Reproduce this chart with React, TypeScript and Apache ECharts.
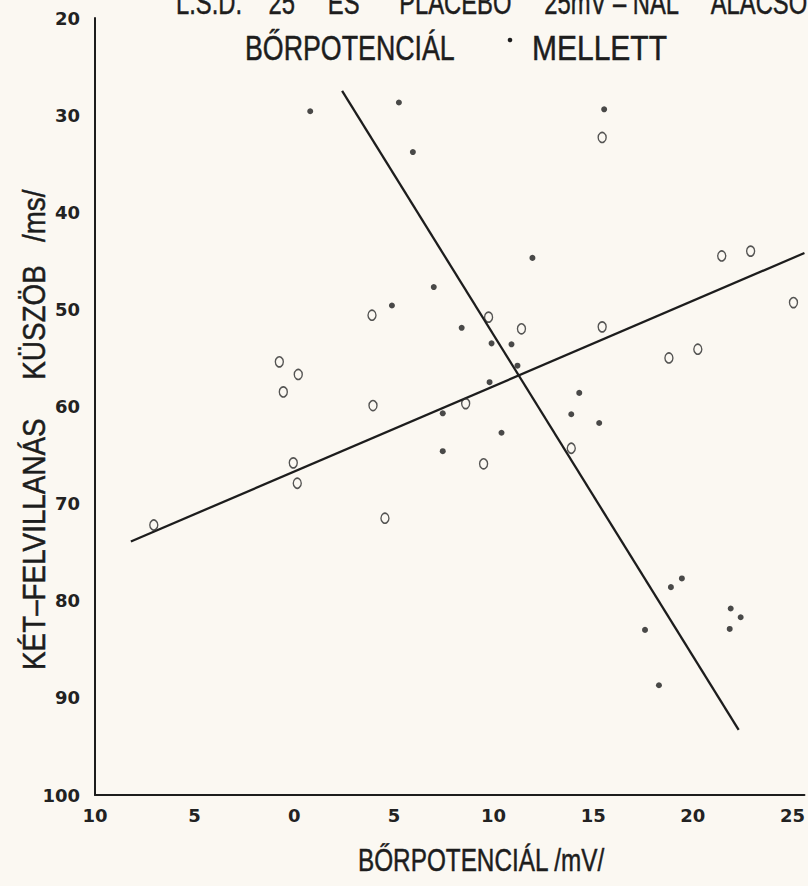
import React, { useEffect, useRef } from 'react';
import * as echarts from 'echarts';

// Axis ticks (skin potential, mV; the left side is negative)
const xTickValues = [-10, -5, 0, 5, 10, 15, 20, 25];
const yTickValues = [20, 30, 40, 50, 60, 70, 80, 90, 100];

// L.S.D. 25 (filled dots)
const lsdX = [0.8, 5.25, 5.95, 7.0, 4.9, 15.55, 11.95, 8.4, 9.9, 10.9, 11.2, 9.8, 7.45, 10.4, 7.45, 14.3, 13.9, 15.3, 19.45, 18.9, 21.9, 22.4, 21.85, 17.6, 18.3];
const lsdY = [29.6, 28.7, 33.8, 47.7, 49.6, 29.4, 44.7, 51.9, 53.5, 53.6, 55.8, 57.5, 60.7, 62.7, 64.6, 58.6, 60.8, 61.7, 77.7, 78.6, 80.8, 81.7, 82.9, 83.0, 88.7];

// Placebo (open circles)
const placeboX = [-0.75, 0.2, -0.55, -0.05, 0.15, -7.05, 3.9, 3.95, 4.55, 9.75, 11.4, 8.6, 9.5, 13.9, 15.45, 15.45, 18.8, 20.25, 21.45, 22.9, 25.05];
const placeboY = [55.4, 56.7, 58.5, 65.8, 67.9, 72.2, 50.6, 59.9, 71.5, 50.8, 52.0, 59.7, 65.9, 64.3, 32.3, 51.8, 55.0, 54.1, 44.5, 44.0, 49.3];

// Regression lines (end points)
const lsdLineX = [2.4, 22.3];
const lsdLineY = [27.5, 93.3];
const placeboLineX = [-8.2, 25.6];
const placeboLineY = [73.9, 44.2];

const titleLine1 = 'L.S.D.\u00A0\u00A0\u00A0 25\u00A0\u00A0\u00A0\u00A0 ÉS\u00A0\u00A0\u00A0\u00A0\u00A0 PLACEBO\u00A0\u00A0\u00A0\u00A0 25mV – NÁL\u00A0\u00A0\u00A0\u00A0 ALACSONYABB';
const titleLine2a = 'BŐRPOTENCIÁL';
const titleLine2b = 'MELLETT';
const yTitle = 'KÉT–FELVILLANÁS\u00A0\u00A0\u00A0\u00A0 KÜSZÖB\u00A0\u00A0 /ms/';
const xTitle = 'BŐRPOTENCIÁL /mV/';

const zip = (xs: number[], ys: number[]) => xs.map((x, i) => [x, ys[i]]);

const INK = '#1d1d1d';
const PAPER = '#fbf8f2';
const CONDENSED = '"Liberation Sans", Arial, sans-serif';

export default function App() {
  const ref = useRef<HTMLDivElement>(null);
  useEffect(() => {
    document.body.style.margin = '0';
    if (!ref.current) return;
    const chart = echarts.init(ref.current, null, { renderer: 'svg' });
    const labelFont = {
      fontFamily: '"DejaVu Sans", Verdana, sans-serif',
      fontWeight: 'bold' as const,
      fontSize: 18,
      color: '#222',
    };
    const titleStyle = (text: string, size: number) => ({
      text,
      font: `${size}px ${CONDENSED}`,
      fill: INK,
      stroke: INK,
      lineWidth: 0.5,
      textAlign: 'left',
      textVerticalAlign: 'middle',
    });
    chart.setOption({
      animation: false,
      backgroundColor: PAPER,
      grid: { left: 95, right: 0, top: 18, bottom: 91, containLabel: false },
      xAxis: {
        type: 'value',
        min: -10,
        max: 25.6,
        interval: 5,
        axisLine: { show: true, onZero: false, lineStyle: { color: INK, width: 2 } },
        axisTick: { show: false },
        splitLine: { show: false },
        axisLabel: {
          ...labelFont,
          margin: 11,
          customValues: xTickValues,
          formatter: (v: number) => String(Math.abs(v)),
        },
      },
      yAxis: {
        type: 'value',
        inverse: true,
        min: 20,
        max: 100,
        interval: 10,
        axisLine: { show: true, onZero: false, lineStyle: { color: INK, width: 2 } },
        axisTick: { show: false },
        splitLine: { show: false },
        axisLabel: {
          ...labelFont,
          margin: 15,
          customValues: yTickValues,
        },
      },
      series: [
        {
          type: 'line',
          data: zip(lsdLineX, lsdLineY),
          symbol: 'none',
          lineStyle: { color: INK, width: 2.3 },
          z: 1,
        },
        {
          type: 'line',
          data: zip(placeboLineX, placeboLineY),
          symbol: 'none',
          lineStyle: { color: INK, width: 2.3 },
          z: 1,
        },
        {
          type: 'scatter',
          name: 'L.S.D. 25',
          data: zip(lsdX, lsdY),
          symbol: 'circle',
          symbolSize: 6,
          itemStyle: { color: INK },
          z: 3,
        },
        {
          type: 'scatter',
          name: 'PLACEBO',
          data: zip(placeboX, placeboY),
          symbol: 'circle',
          symbolSize: [8, 10],
          itemStyle: { color: 'rgba(0,0,0,0)', borderColor: '#2a2a2a', borderWidth: 1.5 },
          z: 3,
        },
      ],
      graphic: [
        { type: 'text', x: 176, y: 3, scaleX: 0.72, style: titleStyle(titleLine1, 33) },
        { type: 'text', x: 245, y: 48, scaleX: 0.765, style: titleStyle(titleLine2a, 35) },
        { type: 'circle', shape: { cx: 510, cy: 40, r: 2.3 }, style: { fill: INK } },
        { type: 'text', x: 532, y: 48, scaleX: 0.857, style: titleStyle(titleLine2b, 35) },
        {
          type: 'text',
          x: 34,
          y: 670,
          rotation: Math.PI / 2,
          scaleX: 0.87,
          style: titleStyle(yTitle, 32),
        },
        { type: 'text', x: 358, y: 860, scaleX: 0.76, style: titleStyle(xTitle, 32) },
      ],
    });
    return () => chart.dispose();
  }, []);
  return <div ref={ref} style={{ width: 808, height: 886 }} />;
}
